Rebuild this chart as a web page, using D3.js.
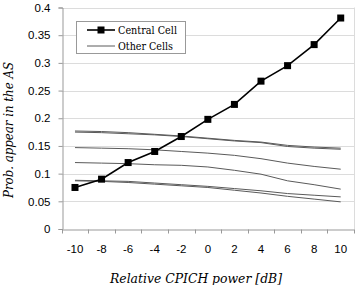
<!DOCTYPE html>
<html>
<head>
<meta charset="utf-8">
<script src="https://cdn.jsdelivr.net/npm/d3@7"></script>
<style>
  body { margin: 0; background: #fff; }
  svg { display: block; }
</style>
</head>
<body>
<div class="chartBox"></div>
<script>
// values
var categories = ['-10', '-8', '-6', '-4', '-2', '0', '2', '4', '6', '8', '10'];
var yTicks = [0, 0.05, 0.1, 0.15, 0.2, 0.25, 0.3, 0.35, 0.4];

var centralCell = [0.075, 0.090, 0.120, 0.140, 0.167, 0.198, 0.225, 0.267, 0.295, 0.333, 0.381];

var otherA = [0.177, 0.176, 0.174, 0.171, 0.168, 0.164, 0.160, 0.157, 0.151, 0.148, 0.146];
var otherB = [0.175, 0.174, 0.172, 0.170, 0.167, 0.163, 0.159, 0.156, 0.149, 0.146, 0.144];
var otherC = [0.147, 0.146, 0.145, 0.143, 0.140, 0.137, 0.133, 0.127, 0.119, 0.113, 0.108];
var otherD = [0.120, 0.119, 0.118, 0.116, 0.115, 0.112, 0.106, 0.099, 0.087, 0.080, 0.072];
var otherE = [0.088, 0.087, 0.086, 0.083, 0.080, 0.077, 0.073, 0.069, 0.064, 0.061, 0.058];
var otherF = [0.087, 0.086, 0.084, 0.081, 0.078, 0.075, 0.070, 0.065, 0.059, 0.054, 0.049];
var otherCells = [otherA, otherB, otherC, otherD, otherE, otherF];

var legendLabels = ['Central Cell', 'Other Cells'];

var serif = 'DejaVu Serif';
var sans = 'Arial, "Liberation Sans", sans-serif';

var w = 356, h = 285;
var margin = { top: 7.5, right: 2, bottom: 56, left: 61.7 };

var svg = d3.select('div.chartBox')
  .append('svg')
  .attr('width', w)
  .attr('height', h);

var x = d3.scaleBand()
  .domain(categories)
  .range([margin.left, w - margin.right])
  .padding(0);

var y = d3.scaleLinear()
  .domain([0, 0.4])
  .range([h - margin.bottom, margin.top]);

function cx(i) { return x(categories[i]) + x.bandwidth() / 2; }

// gridlines
svg.selectAll('line.grid')
  .data(yTicks.slice(1))
  .enter()
  .append('line')
  .attr('class', 'grid')
  .attr('x1', margin.left)
  .attr('x2', w - margin.right)
  .attr('y1', function(d) { return Math.round(y(d)) + 0.5; })
  .attr('y2', function(d) { return Math.round(y(d)) + 0.5; })
  .attr('stroke', '#dcdcdc')
  .attr('stroke-width', 1);

// right border
svg.append('line')
  .attr('x1', Math.round(w - margin.right) + 0.5)
  .attr('x2', Math.round(w - margin.right) + 0.5)
  .attr('y1', y(0.4))
  .attr('y2', y(0))
  .attr('stroke', '#dcdcdc');

// y axis
var yAxis = svg.append('g')
  .attr('transform', 'translate(' + (Math.round(margin.left) + 0.5) + ',0)')
  .call(d3.axisLeft(y)
    .tickValues(yTicks)
    .tickSize(4)
    .tickFormat(function(d) { return String(+d.toFixed(2)); }));
yAxis.select('.domain').attr('stroke', '#999');
yAxis.selectAll('.tick line').attr('stroke', '#999');
yAxis.selectAll('.tick text')
  .attr('x', -12)
  .attr('font-family', sans)
  .attr('font-size', 11.5)
  .attr('fill', '#000');

// x axis
var xAxis = svg.append('g')
  .attr('transform', 'translate(0,' + (Math.round(y(0)) + 0.5) + ')')
  .call(d3.axisBottom(x).tickSize(0).tickPadding(15));
xAxis.select('.domain').attr('stroke', '#999');
xAxis.selectAll('.tick text')
  .attr('font-family', sans)
  .attr('font-size', 11.5)
  .attr('fill', '#000');

// boundary ticks on x axis
var bounds = categories.map(function(c) { return x(c); }).concat([x.range()[1]]);
xAxis.selectAll('line.btick')
  .data(bounds)
  .enter()
  .append('line')
  .attr('class', 'btick')
  .attr('x1', function(d) { return Math.round(d) + 0.5; })
  .attr('x2', function(d) { return Math.round(d) + 0.5; })
  .attr('y1', 0)
  .attr('y2', 4)
  .attr('stroke', '#999');

var line = d3.line()
  .x(function(d, i) { return cx(i); })
  .y(function(d) { return y(d); });

// other cells
svg.selectAll('path.other')
  .data(otherCells)
  .enter()
  .append('path')
  .attr('class', 'other')
  .attr('d', line)
  .attr('fill', 'none')
  .attr('stroke', '#5a5a5a')
  .attr('stroke-width', 1);

// central cell
svg.append('path')
  .datum(centralCell)
  .attr('d', line)
  .attr('fill', 'none')
  .attr('stroke', '#000')
  .attr('stroke-width', 1.6);

svg.selectAll('rect.marker')
  .data(centralCell)
  .enter()
  .append('rect')
  .attr('class', 'marker')
  .attr('x', function(d, i) { return cx(i) - 3.5; })
  .attr('y', function(d) { return y(d) - 3.5; })
  .attr('width', 7)
  .attr('height', 7)
  .attr('fill', '#000');

// legend
var lg = svg.append('g');
lg.append('rect')
  .attr('x', 76.5)
  .attr('y', 21.5)
  .attr('width', 109)
  .attr('height', 32)
  .attr('fill', '#fff')
  .attr('stroke', '#999');
lg.append('line')
  .attr('x1', 87).attr('x2', 115)
  .attr('y1', 30).attr('y2', 30)
  .attr('stroke', '#000').attr('stroke-width', 1.6);
lg.append('rect')
  .attr('x', 97.5).attr('y', 26.5)
  .attr('width', 7).attr('height', 7)
  .attr('fill', '#000');
lg.append('line')
  .attr('x1', 87).attr('x2', 115)
  .attr('y1', 46).attr('y2', 46)
  .attr('stroke', '#5a5a5a').attr('stroke-width', 1);
lg.selectAll('text')
  .data(legendLabels)
  .enter()
  .append('text')
  .attr('x', 118)
  .attr('y', function(d, i) { return 34 + i * 16; })
  .attr('font-family', serif)
  .attr('font-size', 11.5)
  .attr('textLength', function(d, i) { return i === 0 ? 59 : 55; })
  .attr('lengthAdjust', 'spacingAndGlyphs')
  .text(function(d) { return d; });

// axis titles
svg.append('text')
  .attr('x', 110)
  .attr('y', 283)
  .attr('font-family', serif)
  .attr('font-style', 'italic')
  .attr('font-size', 13.5)
  .attr('textLength', 172)
  .attr('lengthAdjust', 'spacingAndGlyphs')
  .text('Relative CPICH power [dB]');

svg.append('text')
  .attr('transform', 'translate(13,198) rotate(-90)')
  .attr('font-family', serif)
  .attr('font-style', 'italic')
  .attr('font-size', 13.5)
  .attr('textLength', 136)
  .attr('lengthAdjust', 'spacingAndGlyphs')
  .text('Prob. appear in the AS');
</script>
</body>
</html>
